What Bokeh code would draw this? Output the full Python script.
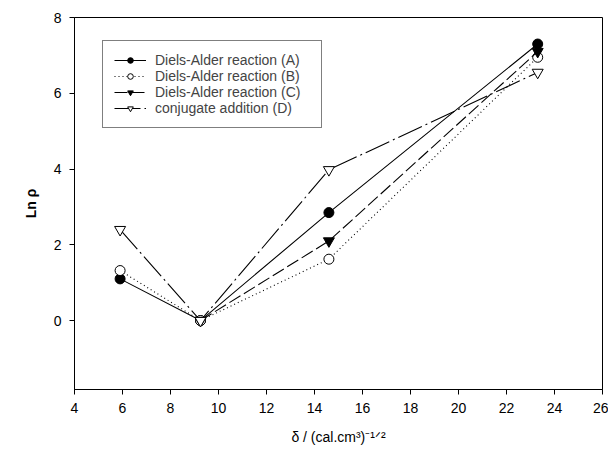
from bokeh.plotting import figure
from bokeh.models import Range1d, FixedTicker, Legend, LegendItem
from bokeh.embed import file_html
from bokeh.resources import INLINE

# data
x_a = [5.9, 9.25, 14.6, 23.3]
y_a = [1.1, 0.0, 2.85, 7.3]
x_b = [5.9, 9.25, 14.6, 23.3]
y_b = [1.32, 0.0, 1.62, 6.95]
x_c = [9.25, 14.6, 23.3]
y_c = [0.0, 2.1, 7.1]
x_d = [5.9, 9.25, 14.6, 23.3]
y_d = [2.4, 0.0, 3.98, 6.55]

names = ["Diels-Alder reaction (A)", "Diels-Alder reaction (B)",
         "Diels-Alder reaction (C)", "conjugate addition (D)"]
x_ticks = list(range(4, 27, 2))
y_ticks = [0, 2, 4, 6, 8]
x_title = "δ / (cal.cm³)⁻¹ᐟ²"
y_title = "Ln ρ"

FONT = "Liberation Sans"

p = figure(width=608, height=449, output_backend="svg", toolbar_location=None,
           x_range=Range1d(4, 26), y_range=Range1d(-1.82, 8),
           min_border_left=74, min_border_right=6, min_border_top=17, min_border_bottom=60)
p.xgrid.visible = False
p.ygrid.visible = False
p.outline_line_color = "black"
p.outline_line_width = 1
p.background_fill_color = "white"

for ax in (p.xaxis[0], p.yaxis[0]):
    ax.major_label_text_font = FONT
    ax.major_label_text_font_size = "14px"
    ax.major_label_text_color = "black"
    ax.axis_line_color = "black"
    ax.major_tick_line_color = "black"
    ax.major_tick_out = 5
    ax.major_tick_in = 0
    ax.minor_tick_line_color = None
    ax.major_label_standoff = 8
    ax.axis_label_text_font = FONT
    ax.axis_label_text_font_size = "14px"
    ax.axis_label_text_color = "black"
p.xaxis.ticker = FixedTicker(ticks=x_ticks)
p.yaxis.ticker = FixedTicker(ticks=y_ticks)
p.yaxis.axis_label = y_title
p.yaxis.axis_label_text_font_style = "bold"
p.yaxis.axis_label_standoff = 12
p.xaxis.axis_label = x_title
p.xaxis.axis_label_text_font_style = "normal"
p.xaxis.axis_label_standoff = 13

la = p.line(x_a, y_a, line_color="black", line_width=1.1)
sa = p.scatter(x_a, y_a, marker="circle", size=10, fill_color="black", line_color="black")
lb = p.line(x_b, y_b, line_color="black", line_width=1.1, line_dash="1 3")
sb = p.scatter(x_b, y_b, marker="circle", size=10, fill_color="white", line_color="black")
lc = p.line(x_c, y_c, line_color="black", line_width=1.1, line_dash="13 4")
sc = p.scatter(x_c, y_c, marker="inverted_triangle", size=11, fill_color="black", line_color="black")
ld = p.line(x_d, y_d, line_color="black", line_width=1.1, line_dash="26 4 2 4")
sd = p.scatter(x_d, y_d, marker="inverted_triangle", size=11, fill_color="white", line_color="black")

legend = Legend(items=[
    LegendItem(label=names[0], renderers=[la, sa]),
    LegendItem(label=names[1], renderers=[lb, sb]),
    LegendItem(label=names[2], renderers=[lc, sc]),
    LegendItem(label=names[3], renderers=[ld, sd]),
], location=(28, 261))
legend.label_text_font = FONT
legend.label_text_font_size = "14px"
legend.label_height = 14
legend.label_width = 155
legend.glyph_height = 14
legend.glyph_width = 32
legend.spacing = 0
legend.padding = 11
legend.label_standoff = 9
legend.border_line_color = "black"
legend.border_line_width = 1
legend.background_fill_alpha = 1
legend.margin = 0
p.add_layout(legend)

open("out.html", "w").write(file_html(p, INLINE))
